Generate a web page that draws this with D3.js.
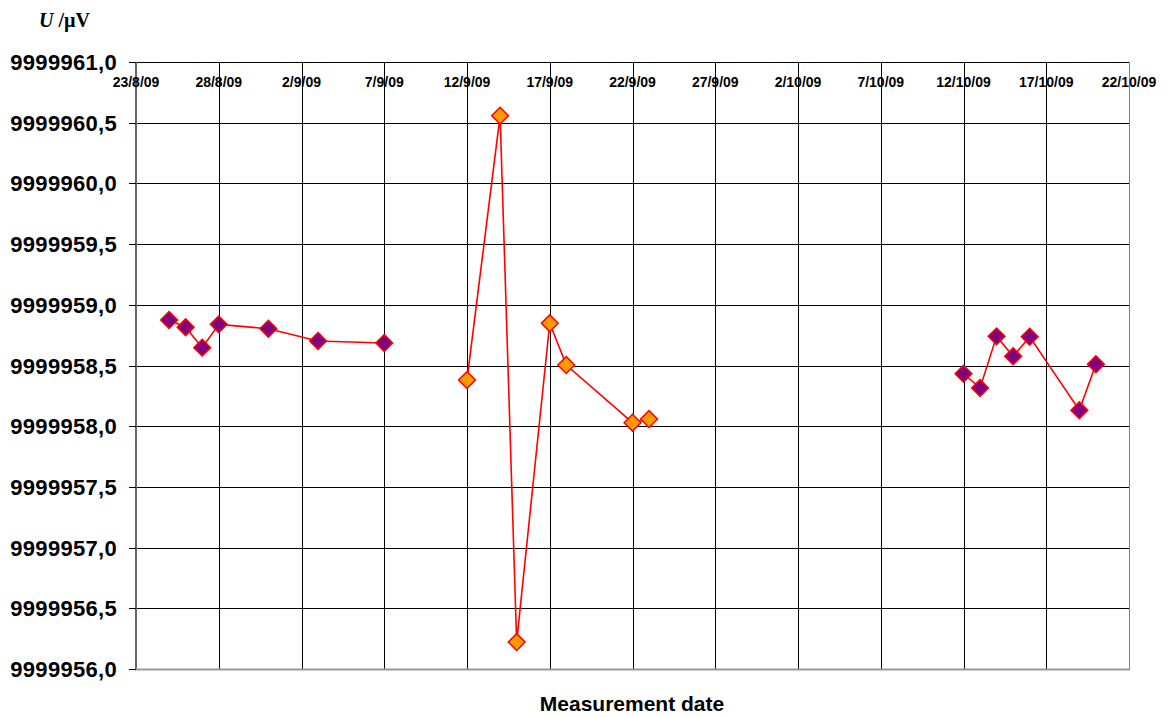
<!DOCTYPE html>
<html>
<head>
<meta charset="utf-8">
<script src="https://cdn.jsdelivr.net/npm/d3@7"></script>
<style>
  html, body { margin: 0; padding: 0; background: #fff; }
  svg { display: block; }
</style>
</head>
<body>
<script>
// Measurement series: dates and voltages (µV), split into three campaigns
const datesA = ["2009-08-25","2009-08-26","2009-08-27","2009-08-28","2009-08-31","2009-09-03","2009-09-07"];
const valuesA = [9999958.875, 9999958.815, 9999958.647, 9999958.839, 9999958.803, 9999958.702, 9999958.685];

const datesB = ["2009-09-12","2009-09-14","2009-09-15","2009-09-17","2009-09-18","2009-09-22","2009-09-23"];
const valuesB = [9999958.381, 9999960.558, 9999956.222, 9999958.848, 9999958.504, 9999958.029, 9999958.059];

const datesC = ["2009-10-12","2009-10-13","2009-10-14","2009-10-15","2009-10-16","2009-10-19","2009-10-20"];
const valuesC = [9999958.432, 9999958.315, 9999958.740, 9999958.576, 9999958.737, 9999958.131, 9999958.510];

const xTickLabels = ["23/8/09","28/8/09","2/9/09","7/9/09","12/9/09","17/9/09","22/9/09","27/9/09","2/10/09","7/10/09","12/10/09","17/10/09","22/10/09"];
const yTicks = [9999956.0, 9999956.5, 9999957.0, 9999957.5, 9999958.0, 9999958.5, 9999959.0, 9999959.5, 9999960.0, 9999960.5, 9999961.0];

const W = 1171, H = 717;
const parse = d3.utcParse("%Y-%m-%d");

const x = d3.scaleUtc()
  .domain([parse("2009-08-23"), parse("2009-10-22")])
  .range([136, 1129]);
const y = d3.scaleLinear()
  .domain([9999956, 9999961])
  .range([669, 62]);

const xTicks = d3.utcDay.range(parse("2009-08-23"), d3.utcDay.offset(parse("2009-10-22"), 1), 5);

const svg = d3.select("body").append("svg")
  .attr("width", W).attr("height", H);

// Horizontal grid
svg.append("g").selectAll("line").data(yTicks).join("line")
  .attr("x1", 136).attr("x2", 1129)
  .attr("y1", d => Math.round(y(d)) + 0.5).attr("y2", d => Math.round(y(d)) + 0.5)
  .attr("stroke", "#000").attr("stroke-width", 1)
  .attr("shape-rendering", "crispEdges");

// Vertical grid
svg.append("g").selectAll("line").data(xTicks).join("line")
  .attr("x1", d => Math.round(x(d)) + 0.5).attr("x2", d => Math.round(x(d)) + 0.5)
  .attr("y1", 62).attr("y2", 669)
  .attr("stroke", (d, i) => (i === xTicks.length - 1) ? "#808080" : "#000")
  .attr("stroke-width", 1)
  .attr("shape-rendering", "crispEdges");

// Axis frame: left and bottom edges
svg.append("line")
  .attr("x1", 136).attr("x2", 136).attr("y1", 62).attr("y2", 670)
  .attr("stroke", "#666").attr("stroke-width", 2);
svg.append("line")
  .attr("x1", 135).attr("x2", 1130).attr("y1", 669.5).attr("y2", 669.5)
  .attr("stroke", "#999").attr("stroke-width", 2);

// Y axis ticks and labels
const yFmt = v => d3.format(".1f")(v).replace(".", ",");
const yAxis = svg.append("g");
yAxis.selectAll("line").data(yTicks).join("line")
  .attr("x1", 129).attr("x2", 136)
  .attr("y1", d => Math.round(y(d)) + 0.5).attr("y2", d => Math.round(y(d)) + 0.5)
  .attr("stroke", "#000").attr("shape-rendering", "crispEdges");
yAxis.selectAll("text").data(yTicks).join("text")
  .attr("x", 117).attr("y", d => y(d) + 8)
  .attr("text-anchor", "end")
  .attr("font-family", "Liberation Sans, Arial, sans-serif")
  .attr("font-weight", "bold").attr("font-size", 22)
  .attr("letter-spacing", 0.3)
  .attr("fill", "#000")
  .text(yFmt);

// X axis labels along the top edge
svg.append("g").selectAll("text").data(xTicks).join("text")
  .attr("x", d => x(d)).attr("y", 87)
  .attr("text-anchor", "middle")
  .attr("font-family", "Liberation Sans, Arial, sans-serif")
  .attr("font-weight", "bold").attr("font-size", 14)
  .attr("fill", "#000")
  .text((d, i) => xTickLabels[i]);

// Series
const groups = [
  { dates: datesA, values: valuesA, fill: "#800080" },
  { dates: datesB, values: valuesB, fill: "#FF9900" },
  { dates: datesC, values: valuesC, fill: "#800080" }
];

const line = d3.line().x(d => x(d.date)).y(d => y(d.value));
const diamond = d3.symbol().type(d3.symbolDiamond2).size(180);

groups.forEach(g => {
  const pts = g.dates.map((d, i) => ({ date: parse(d), value: g.values[i] }));
  svg.append("path")
    .datum(pts)
    .attr("d", line)
    .attr("fill", "none")
    .attr("stroke", "#FF0000")
    .attr("stroke-width", 1.6);
  svg.append("g").selectAll("path").data(pts).join("path")
    .attr("d", diamond)
    .attr("transform", d => `translate(${x(d.date)},${y(d.value)})`)
    .attr("fill", g.fill)
    .attr("stroke", "#FF0000")
    .attr("stroke-width", 1.5);
});

// Axis titles
const yTitle = svg.append("text")
  .attr("x", 39).attr("y", 27)
  .attr("font-family", "Liberation Serif, Times New Roman, serif")
  .attr("font-weight", "bold").attr("font-size", 20)
  .attr("fill", "#000");
yTitle.append("tspan").attr("font-style", "italic").text("U");
yTitle.append("tspan").text(" /µV");

svg.append("text")
  .attr("x", 632).attr("y", 711)
  .attr("text-anchor", "middle")
  .attr("font-family", "Liberation Sans, Arial, sans-serif")
  .attr("font-weight", "bold").attr("font-size", 21)
  .attr("fill", "#000")
  .text("Measurement date");
</script>
</body>
</html>
